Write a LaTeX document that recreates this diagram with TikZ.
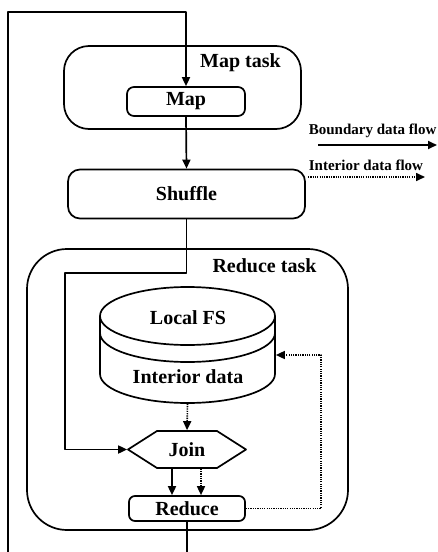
\documentclass[tikz,border=0pt]{standalone}
\usepackage{fontspec}
\setmainfont{Liberation Serif}
\usetikzlibrary{arrows.meta}
\begin{document}
\begin{tikzpicture}[x=1pt,y=-1pt,
  line width=1.7pt, line join=round,
  box/.style={draw, rounded corners=#1, inner sep=0pt},
  lbl/.style={font=\bfseries\fontsize{20}{24}\selectfont, inner sep=0pt},
  leg/.style={font=\bfseries\fontsize{15}{18}\selectfont, inner sep=0pt, anchor=west},
  arr/.style={-{Triangle[length=9pt,width=8pt]}},
  dot/.style={line width=1.6pt, dash pattern=on 1.2pt off 1.1pt},
  darr/.style={dot, -{Triangle[length=9pt,width=8pt]}}]
\useasboundingbox (0,0) rectangle (438,552);
% Map task
\node[box=25pt, minimum width=237pt, minimum height=83pt] (maptask) at (182.5,87.5) {};
\node[lbl] (maptasklbl) at (240.5,63) {Map task};
\node[box=7pt, minimum width=118pt, minimum height=29pt, lbl] (map) at (186,101.5) {Map};
% Shuffle
\node[box=12pt, minimum width=237pt, minimum height=49pt, lbl] (shuffle) at (186.5,194) {Shuffle};
% Reduce task
\node[box=40pt, minimum width=321pt, minimum height=281pt] (reducetask) at (187.5,389.5) {};
\node[lbl] (reducetasklbl) at (264.5,266) {Reduce task};
% Local FS cylinder
\node[minimum width=175pt, minimum height=116pt, inner sep=0pt] (fs) at (187.5,345) {};
\draw (100,316) -- (100,374) arc[start angle=180,end angle=360,x radius=87.5pt,y radius=29pt] -- (275,316);
\draw (187.5,316) ellipse[x radius=87.5pt, y radius=29pt];
\draw (100,333) arc[start angle=180,end angle=360,x radius=87.5pt,y radius=29pt];
\node[lbl] (fslbl) at (188,318) {Local FS};
\node[lbl] (intlbl) at (188,377) {Interior data};
% Join hexagon
\draw (128,449.5) -- (157,431) -- (217,431) -- (246,449.5) -- (217,468) -- (157,468) -- cycle;
\node[lbl, minimum width=118pt, minimum height=37pt] (join) at (187,449.5) {Join};
% Reduce
\node[box=6pt, minimum width=116pt, minimum height=25pt, lbl] (reduce) at (187,508.5) {Reduce};
% feedback path
\coordinate (botR) at (187,552);
\coordinate (botL) at (8,552);
\coordinate (topL) at (8,12);
\draw (reduce.south) -- (botR);
\draw[arr] (botL) -- (topL) -| (map.north);
% map -> shuffle
\draw[arr] (map.south) -- (shuffle.north);
% shuffle -> join
\coordinate (bend) at (65,273);
\draw[arr] (shuffle.south) |- (bend) |- (join.west);
% fs -> join
\draw[darr] (fs.south) -- (join.north);
% join -> reduce
\draw[arr] ([xshift=-15pt]join.south) -- ([xshift=-15pt]join.south |- reduce.north);
\draw[darr] ([xshift=14pt]join.south) -- ([xshift=14pt]join.south |- reduce.north);
% reduce -> fs feedback
\coordinate (fbk) at (321,355);
\draw[darr] (reduce.east) -| (fbk) -- (fbk -| fs.east);
% legend
\node[leg] (legb) at (308,131) {Boundary data flow};
\node[leg] (legi) at (308,165) {Interior data flow};
\coordinate (lb1) at (318,145); \coordinate (lb2) at (437,145);
\coordinate (li1) at (308,177); \coordinate (li2) at (425,177);
\draw[arr] (lb1) -- (lb2);
\draw[darr] (li1) -- (li2);
\end{tikzpicture}
\end{document}
